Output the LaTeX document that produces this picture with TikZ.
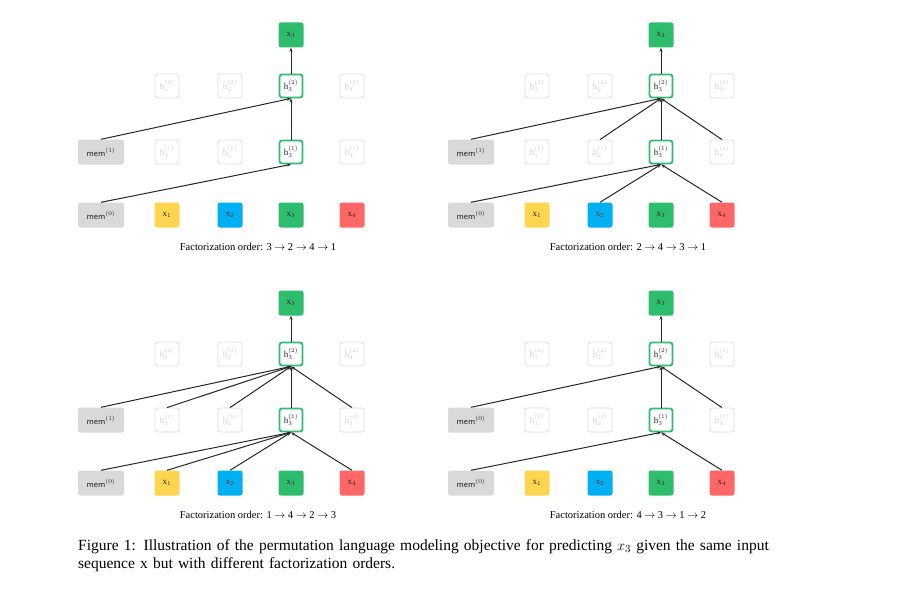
\documentclass[tikz,border=0pt]{standalone}
\usepackage{fontspec}
\setmainfont{Liberation Serif}
\usetikzlibrary{arrows.meta}
\definecolor{cy}{HTML}{FFD54F}
\definecolor{cb}{HTML}{00B0F0}
\definecolor{cg}{HTML}{2EBD6E}
\definecolor{cr}{HTML}{FF6666}
\definecolor{cm}{HTML}{D9D9D9}
\definecolor{cf}{HTML}{DDDDDD}
\newcommand{\mypanel}[6]{%
 \begin{scope}[shift={(#1,#2)}]
  \node[mem] (#3m0) at (101,215) {\textsf{mem}$^{(0)}$};
  \node[mem] (#3m1) at (101,152) {\textsf{mem}$^{(#4)}$};
  \node[box,fill=cy] (#3x1) at (167,215) {x$_1$};
  \node[box,fill=cb] (#3x2) at (230,215) {x$_2$};
  \node[box,fill=cg] (#3x3) at (291,215) {x$_3$};
  \node[box,fill=cr] (#3x4) at (352,215) {x$_4$};
  \node[faded] (#3a1) at (167,152) {h$_1^{(1)}$};
  \node[faded] (#3a2) at (230,152) {h$_2^{(1)}$};
  \node[hi] (#3a3) at (291,152) {h$_3^{(1)}$};
  \node[faded] (#3a4) at (352,152) {h$_4^{(1)}$};
  \node[faded] (#3b1) at (167,86) {h$_1^{(2)}$};
  \node[faded] (#3b2) at (230,86) {h$_2^{(2)}$};
  \node[hi] (#3b3) at (291,86) {h$_3^{(2)}$};
  \node[faded] (#3b4) at (352,86) {h$_4^{(2)}$};
  \node[box,fill=cg] (#3o) at (291,35) {x$_3$};
  \node[captxt] (#3c) at (258,247) {Factorization order: #5};
  \draw[arr] (#3a3) -- (#3b3);
  \draw[arr] (#3b3) -- (#3o);
  #6
 \end{scope}}
\newcommand{\ar}{$\rightarrow$}
\begin{document}
\begin{tikzpicture}[x=1pt,y=-1pt,
 base/.style={rounded corners=2.5pt,minimum height=25pt,inner sep=0pt,font=\fontsize{9}{10}\selectfont,text=black!85},
 box/.style={base,minimum width=25pt,draw=none},
 mem/.style={base,minimum width=46pt,fill=cm},
 faded/.style={base,minimum width=24pt,minimum height=24pt,draw=cf,line width=0.8pt,fill=white,text=black!18},
 hi/.style={base,minimum width=23pt,minimum height=23pt,draw=cg,line width=1.8pt,fill=white},
 captxt/.style={font=\fontsize{10.5}{12}\selectfont},
 arr/.style={-{Stealth[length=4pt,width=3pt]},line width=1pt,black!85}]
\useasboundingbox (0,0) rectangle (902,594);
\mypanel{0}{0}{p}{1}{3 \ar\ 2 \ar\ 4 \ar\ 1}{%
 \draw[arr] (pm0.north) -- (pa3.south);
 \draw[arr] (pm1.north) -- (pb3.south);}
\mypanel{370}{0}{q}{1}{2 \ar\ 4 \ar\ 3 \ar\ 1}{%
 \draw[arr] (qm0.north) -- (qa3.south);
 \draw[arr] (qx2.north) -- (qa3.south);
 \draw[arr] (qx4.north) -- (qa3.south);
 \draw[arr] (qm1.north) -- (qb3.south);
 \draw[arr] (qa2.north) -- (qb3.south);
 \draw[arr] (qa4.north) -- (qb3.south);}
\mypanel{0}{268}{r}{1}{1 \ar\ 4 \ar\ 2 \ar\ 3}{%
 \draw[arr] (rm0.north) -- (ra3.south);
 \draw[arr] (rx1.north) -- (ra3.south);
 \draw[arr] (rx2.north) -- (ra3.south);
 \draw[arr] (rx4.north) -- (ra3.south);
 \draw[arr] (rm1.north) -- (rb3.south);
 \draw[arr] (ra1.north) -- (rb3.south);
 \draw[arr] (ra2.north) -- (rb3.south);
 \draw[arr] (ra4.north) -- (rb3.south);}
\mypanel{370}{268}{s}{0}{4 \ar\ 3 \ar\ 1 \ar\ 2}{%
 \draw[arr] (sm0.north) -- (sa3.south);
 \draw[arr] (sx4.north) -- (sa3.south);
 \draw[arr] (sm1.north) -- (sb3.south);
 \draw[arr] (sa4.north) -- (sb3.south);}
\node[anchor=north west,text width=700pt,align=left,inner sep=0pt,font=\fontsize{15.5}{18.5}\selectfont] (fig) at (78,539)
 {Figure 1: Illustration of the permutation language modeling objective for predicting $x_3$ given the same input sequence x but with different factorization orders.};
\end{tikzpicture}
\end{document}
